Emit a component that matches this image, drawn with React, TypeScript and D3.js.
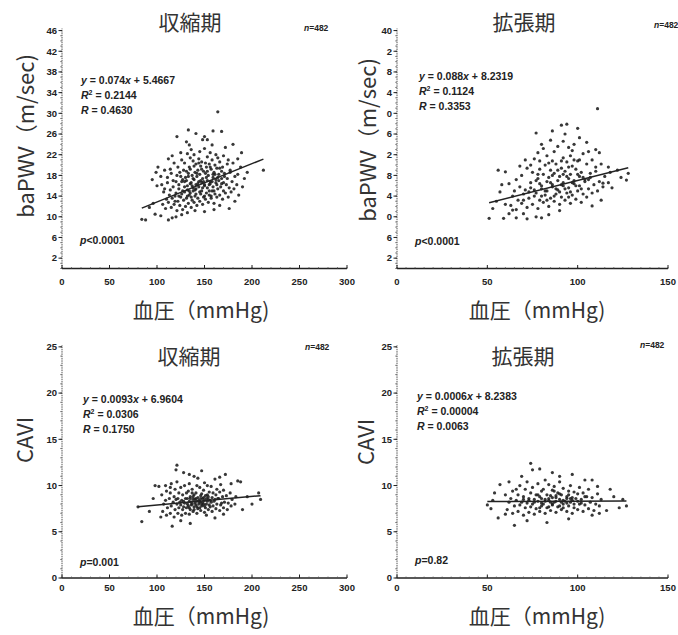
import React from 'react';
import * as d3 from 'd3';

type Pt = [number, number];

// 収縮期血圧 vs baPWV
const sysPwv: Pt[] = [
  [164,30.3],[133,26.8],[141,26.1],[150,25.5],[153,24.9],[159,26.6],[168,26.5],[121,25.5],[131,24.5],[134,23.9],[148,24.9],[158,23.9],[172,23.4],[180,24.0],[189,22.4],[212,19.0],
  [84,9.5],[88,9.4],[92,11.8],[96,12.6],[95,17.2],[99,18.6],[101,19.6],[100,16.0],[104,17.8],[108,19.0],[112,21.2],[116,21.8],[98,10.5],[104,10.2],
  [185,21.2],[192,17.4],[190,15.8],[186,14.2],[182,13.0],[176,11.6],[188,19.6],[195,18.6],
  [112,9.4],[116,9.8],[120,10.0],[126,10.4],[132,10.8],[140,11.2],[150,11.0],[160,11.4],[166,12.2],
  [106,12.4],[107,14.8],[105,16.2],
  [109,11.6],[110,13.4],[108,15.4],[111,17.6],
  [112,12.8],[113,14.2],[111,16.6],[114,19.2],
  [115,11.8],[116,13.6],[114,15.2],[117,17.0],[115,18.4],
  [118,12.4],[119,14.0],[117,15.8],[120,16.8],[118,20.4],
  [121,11.2],[122,13.0],[120,14.6],[123,16.2],[121,18.0],[122,19.6],
  [124,12.2],[125,13.8],[123,15.4],[126,16.8],[124,18.6],[125,22.4],
  [127,11.4],[128,13.2],[126,14.4],[129,15.8],[127,17.2],[128,19.0],[126,21.0],
  [130,12.0],[131,13.6],[129,14.8],[132,16.0],[130,17.6],[131,18.8],[129,20.4],[132,22.2],
  [133,12.6],[134,14.2],[132,15.2],[135,16.4],[133,17.8],[134,19.6],[135,21.4],
  [136,11.8],[137,13.2],[135,14.6],[138,15.6],[136,16.6],[137,18.0],[135,19.2],[138,20.8],[136,23.0],
  [139,12.8],[140,14.0],[138,15.0],[141,16.2],[139,17.2],[140,18.6],[141,20.2],[139,22.0],
  [142,12.2],[143,13.6],[141,15.4],[144,16.8],[142,17.8],[143,19.0],[144,21.2],
  [145,13.0],[146,14.4],[144,15.8],[147,16.6],[145,18.2],[146,19.8],[145,22.6],
  [148,12.4],[149,13.8],[147,15.0],[150,16.2],[148,17.4],[149,18.8],[147,20.6],[150,23.2],
  [151,13.4],[152,14.6],[150,16.0],[153,17.0],[151,18.4],[152,19.6],[153,21.6],
  [154,12.8],[155,14.2],[153,15.6],[156,16.8],[154,18.0],[155,20.2],[156,22.4],
  [157,13.6],[158,15.0],[156,16.4],[159,17.6],[157,19.2],[158,21.0],
  [160,12.6],[161,14.4],[159,15.8],[162,17.2],[160,18.6],[161,20.0],[162,22.0],
  [163,13.8],[164,15.4],[162,16.6],[165,18.2],[163,19.4],[164,21.4],
  [166,14.2],[167,15.8],[165,17.0],[168,18.8],[166,20.6],
  [169,13.4],[170,15.0],[168,16.4],[171,17.8],[169,19.6],[170,21.8],
  [172,14.6],[173,16.2],[171,18.4],[174,20.2],
  [175,13.8],[176,15.6],[174,17.4],[177,19.0],[175,21.0],
  [178,14.8],[179,16.8],[177,18.6],
  [181,15.4],[182,17.8],[180,20.4],
  [184,16.2],[185,18.2],
  [134,15.0],[137,16.0],[140,15.2],[143,16.4],[146,17.0],[149,16.8],[152,17.6],[155,16.2],[158,16.8],[161,18.2],
  [138,17.4],[142,18.4],[147,19.2],[151,20.4],[156,19.6],[132,14.0],[129,16.8],[136,13.8],[141,14.4],[145,14.8],
  [150,14.0],[155,15.0],[160,15.0],[164,17.6],[168,17.4],[133,18.4],[127,15.0],[123,14.0],[119,13.0],[144,20.4],
  [153,18.8],[159,18.2],[166,19.4],[170,16.6],[148,15.6],[139,19.8],[131,17.0],[125,17.8],[157,14.0],[163,16.2],
];

// 拡張期血圧 vs baPWV
const diaPwv: Pt[] = [
  [111,30.9],[91,27.7],[94,27.9],[100,27.1],[77,26.2],[86,26.6],[93,26.0],[101,25.3],[105,24.4],[80,24.0],[110,23.0],[112,22.4],
  [56,19.0],[60,18.7],[53,11.6],[51,9.7],[59,9.7],[64,11.3],[122,19.0],[127,17.1],[124,17.6],[114,16.5],[113,13.2],[108,12.1],
  [77,10.0],[90,11.2],[70,10.6],[84,10.4],[117,19.6],[119,15.6],[128,18.4],
  [83,21.8],[89,23.6],[97,22.8],[101,21.0],[106,22.6],[74,20.0],[79,20.8],[92,24.6],[98,24.0],[85,24.8],[71,21.0],[68,19.8],
  [60,12.4],[57,14.8],[55,13.0],[58,16.2],[62,10.6],[66,9.8],[72,9.6],[80,9.8],
  [63,12.2],[64,14.0],[62,16.4],
  [66,11.4],[67,13.2],[65,15.0],[66,17.2],
  [69,12.6],[70,14.4],[68,15.8],[69,18.0],
  [72,11.8],[73,13.6],[71,15.2],[74,16.6],[72,19.4],
  [75,12.4],[76,14.0],[74,15.6],[77,17.0],[75,18.6],[76,21.2],
  [78,11.6],[79,13.2],[77,14.6],[80,16.0],[78,17.4],[79,19.2],[78,22.4],
  [81,12.8],[82,14.2],[80,15.4],[83,16.8],[81,18.2],[82,20.0],[81,23.2],
  [84,12.0],[85,13.6],[83,15.0],[86,16.2],[84,17.6],[85,19.0],[86,20.8],
  [87,13.0],[88,14.4],[86,15.8],[89,17.0],[87,18.4],[88,20.2],[87,22.6],
  [90,12.4],[91,13.8],[89,15.2],[92,16.6],[90,17.8],[91,19.4],[92,21.4],
  [93,13.2],[94,14.6],[92,16.0],[95,17.4],[93,18.8],[94,20.6],[95,23.4],
  [96,12.6],[97,14.2],[95,15.6],[98,17.0],[96,18.2],[97,19.8],[96,21.8],
  [99,13.4],[100,15.0],[98,16.4],[101,17.8],[99,19.2],[100,20.8],
  [102,12.8],[103,14.4],[101,16.0],[104,17.2],[102,18.6],[103,22.2],
  [105,13.8],[106,15.4],[104,16.8],[107,18.4],[105,20.2],
  [108,14.6],[109,16.2],[107,17.6],[110,19.6],[108,21.0],
  [111,15.0],[112,16.8],[110,18.8],
  [114,15.8],[115,17.8],[113,20.2],
  [117,16.6],[118,18.6],
  [82,15.0],[85,16.6],[88,15.4],[91,16.2],[94,17.8],[97,16.6],[100,18.2],[103,17.6],[86,18.0],[89,19.0],
  [92,18.2],[95,19.6],[80,14.0],[83,13.2],[87,14.0],[90,14.8],[93,15.4],[96,14.8],[99,16.0],[102,15.4],
  [76,15.2],[79,16.4],[73,14.8],[70,13.2],[106,17.2],[84,20.4],[98,21.0],[91,20.8],[78,18.2],[95,13.8],
];

// 収縮期血圧 vs CAVI
const sysCavi: Pt[] = [
  [121,12.2],[120,11.7],[128,11.4],[134,11.2],[139,11.0],[147,11.6],[143,10.8],[98,10.0],[102,9.9],[109,10.0],[114,9.8],
  [161,10.7],[166,10.9],[185,10.5],[188,10.4],[80,7.7],[84,6.1],[116,5.6],[207,9.2],[209,8.5],[161,6.5],[152,6.8],
  [92,7.2],[96,8.6],[104,6.6],[172,11.2],[178,10.2],[195,8.8],[200,8.0],[190,7.4],[125,6.2],[135,5.9],[170,6.9],
  [106,7.2],[107,8.0],[105,9.0],
  [110,6.8],[111,7.6],[109,8.4],[110,9.4],
  [114,7.0],[115,7.8],[113,8.6],[114,9.2],[115,10.2],
  [118,6.6],[119,7.4],[117,8.2],[118,8.8],[119,9.6],
  [122,7.0],[123,7.6],[121,8.0],[122,8.6],[123,9.2],[121,10.4],
  [126,6.8],[127,7.4],[125,7.9],[126,8.4],[127,9.0],[125,9.8],
  [130,7.0],[131,7.6],[129,8.1],[130,8.6],[131,9.2],[129,10.0],
  [134,6.9],[135,7.4],[133,7.8],[134,8.3],[135,8.8],[133,9.4],[134,10.2],
  [138,7.2],[139,7.7],[137,8.0],[138,8.5],[139,9.0],[137,9.6],
  [142,7.0],[143,7.5],[141,7.9],[142,8.3],[143,8.7],[141,9.2],[142,10.0],
  [146,7.3],[147,7.8],[145,8.2],[146,8.6],[147,9.1],[145,9.8],
  [150,7.1],[151,7.6],[149,8.0],[150,8.4],[151,8.9],[149,9.5],[150,10.3],
  [154,7.4],[155,7.9],[153,8.3],[154,8.8],[155,9.3],[153,10.0],
  [158,7.2],[159,7.8],[157,8.2],[158,8.7],[159,9.2],[157,9.9],
  [162,7.5],[163,8.0],[161,8.5],[162,9.0],[163,9.6],
  [166,7.3],[167,7.9],[165,8.6],[166,9.3],[167,10.1],
  [170,7.6],[171,8.2],[169,8.8],[170,9.5],
  [174,7.4],[175,8.1],[173,8.9],
  [178,7.8],[179,8.5],[177,9.2],
  [182,8.0],[183,8.8],
  [132,8.0],[136,8.2],[140,8.1],[144,8.4],[148,8.2],[128,8.3],[152,8.6],[156,8.4],[139,7.4],[145,7.6],[135,8.6],[147,8.0],
  [136,7.9],[140,8.5],[144,8.0],[148,8.6],[152,8.0],[138,8.8],[142,7.7],[146,8.9],[150,7.8],[154,8.5],[132,8.6],[128,7.7],
  [156,7.7],[160,8.3],[134,7.6],[141,8.6],[145,8.3],[149,8.7],[137,9.2],[153,9.0],[124,8.2],[120,8.5],[164,8.6],[168,8.1],
];

// 拡張期血圧 vs CAVI
const diaCavi: Pt[] = [
  [74,12.4],[75,11.7],[50,7.9],[52,7.5],[56,6.5],[65,5.7],[57,10.1],[54,9.2],[86,11.4],[90,11.0],[97,11.2],[104,10.6],
  [108,10.6],[111,9.9],[125,8.5],[127,7.8],[116,7.3],[112,7.0],[108,6.8],[62,10.4],[66,9.6],[69,11.0],[79,11.8],[60,6.9],
  [72,6.2],[83,6.0],[95,6.4],[120,8.8],[118,9.6],[123,7.6],[53,8.4],
  [61,7.4],[62,8.2],[60,9.0],
  [64,7.0],[65,7.8],[63,8.6],[64,9.4],
  [67,7.2],[68,7.9],[66,8.4],[67,9.0],[68,10.0],
  [70,6.8],[71,7.6],[69,8.2],[70,8.8],[71,9.6],
  [73,7.1],[74,7.7],[72,8.1],[73,8.6],[74,9.2],[72,10.4],
  [76,6.9],[77,7.5],[75,8.0],[76,8.5],[77,9.0],[75,9.8],
  [79,7.2],[80,7.8],[78,8.3],[79,8.8],[80,9.4],[78,10.2],
  [82,7.0],[83,7.6],[81,8.0],[82,8.5],[83,9.0],[81,9.6],[82,10.6],
  [85,7.3],[86,7.9],[84,8.4],[85,8.9],[86,9.5],[84,10.1],
  [88,7.1],[89,7.7],[87,8.2],[88,8.7],[89,9.2],[87,9.9],
  [91,7.4],[92,8.0],[90,8.5],[91,9.0],[92,9.7],[90,10.4],
  [94,7.2],[95,7.8],[93,8.3],[94,8.8],[95,9.4],
  [97,7.0],[98,7.6],[96,8.2],[97,8.7],[98,9.3],[96,10.0],
  [100,7.4],[101,8.0],[99,8.6],[100,9.1],[101,9.8],
  [103,7.2],[104,7.9],[102,8.5],[103,9.2],
  [106,7.5],[107,8.2],[105,8.8],[106,9.6],
  [109,7.3],[110,8.0],[108,8.7],
  [112,7.8],[113,8.5],[111,9.1],
  [80,8.1],[84,8.6],[88,8.3],[92,8.4],[96,8.6],[86,8.0],[90,7.8],[94,8.1],[78,9.0],[98,8.0],
  [82,8.3],[85,8.2],[88,8.9],[91,8.2],[94,8.6],[97,8.4],[100,8.3],[86,8.7],[90,9.1],[84,7.7],
  [92,7.6],[80,8.6],[76,8.2],[102,8.1],[104,8.8],[79,7.6],[73,8.4],[70,8.5],[87,9.4],[95,9.0],
];

const slopes = [0.074, 0.088, 0.0093, 0.0006];
const intercepts = [5.4667, 8.2319, 6.9604, 8.2383];
const eqSlopeText = ['0.074', '0.088', '0.0093', '0.0006'];
const eqInterceptText = ['5.4667', '8.2319', '6.9604', '8.2383'];
const r2Text = ['0.2144', '0.1124', '0.0306', '0.00004'];
const rText = ['0.4630', '0.3353', '0.1750', '0.0063'];
const pText = ['<0.0001', '<0.0001', '=0.001', '=0.82'];
const nText = ['482', '482', '482', '482'];
const titles = ['収縮期', '拡張期', '収縮期', '拡張期'];
const yAxisTitles = ['baPWV（m/sec)', 'baPWV（m/sec)', 'CAVI', 'CAVI'];
const xAxisTitle = '血圧（mmHg)';

const xTicksSys = [0, 50, 100, 150, 200, 250, 300];
const xTicksDia = [0, 50, 100, 150];
const yTicksPwv = [2, 6, 10, 14, 18, 22, 26, 30, 34, 38, 42, 46];
const yTickLabelsPwvLeft = ['2', '6', '10', '14', '18', '22', '26', '30', '34', '38', '42', '46'];
const yTickLabelsPwvRight = ['2', '6', '0', '4', '8', '2', '6', '0', '4', '8', '2', '40'];
const yTicksCavi = [0, 5, 10, 15, 20, 25];
const yTickLabelsCavi = ['0', '5', '10', '15', '20', '25'];

interface Cfg {
  data: Pt[];
  idx: number;
  xDomain: [number, number];
  xRange: [number, number];
  xTicks: number[];
  yDomain: [number, number];
  yRange: [number, number];
  yTicks: number[];
  yTickLabels: string[];
  titleX: number;
  titleY: number;
  nX: number;
  nY: number;
  yTitleX: number;
  yTitleY: number;
  xTitleX: number;
  xTitleY: number;
  xTickDy: number;
  eqX: number;
  eqY: number;
  pX: number;
  pY: number;
}

const panels: Cfg[] = [
  { data: sysPwv, idx: 0, xDomain: [0, 300], xRange: [62, 347], xTicks: xTicksSys, yDomain: [0, 46.4], yRange: [268.5, 28.5],
    yTicks: yTicksPwv, yTickLabels: yTickLabelsPwvLeft, titleX: 190, titleY: 30, nX: 304, nY: 31,
    yTitleX: 24, yTitleY: 136, xTitleX: 201, xTitleY: 318, xTickDy: 16, eqX: 81, eqY: 84, pX: 80, pY: 244 },
  { data: diaPwv, idx: 1, xDomain: [0, 150], xRange: [397, 668], xTicks: xTicksDia, yDomain: [0, 46.4], yRange: [268.5, 28.5],
    yTicks: yTicksPwv, yTickLabels: yTickLabelsPwvRight, titleX: 524, titleY: 30, nX: 654, nY: 28,
    yTitleX: 366, yTitleY: 140, xTitleX: 537, xTitleY: 318, xTickDy: 16, eqX: 419, eqY: 80, pX: 415, pY: 245 },
  { data: sysCavi, idx: 2, xDomain: [0, 300], xRange: [62, 347], xTicks: xTicksSys, yDomain: [0, 25.2], yRange: [578, 345],
    yTicks: yTicksCavi, yTickLabels: yTickLabelsCavi, titleX: 189, titleY: 364, nX: 305, nY: 350,
    yTitleX: 23, yTitleY: 440, xTitleX: 201, xTitleY: 624, xTickDy: 13, eqX: 83, eqY: 403, pX: 80, pY: 566 },
  { data: diaCavi, idx: 3, xDomain: [0, 150], xRange: [397, 668], xTicks: xTicksDia, yDomain: [0, 25.2], yRange: [578, 345],
    yTicks: yTicksCavi, yTickLabels: yTickLabelsCavi, titleX: 523, titleY: 364, nX: 640, nY: 348,
    yTitleX: 364, yTitleY: 442, xTitleX: 537, xTitleY: 624, xTickDy: 13, eqX: 417, eqY: 400, pX: 415, pY: 564 },
];

const numFont = '"Liberation Sans", Arial, sans-serif';
const jpFont = '"Noto Sans CJK JP", "Noto Sans", sans-serif';
const ink = '#222';

function Panel({ cfg }: { cfg: Cfg }) {
  const x = d3.scaleLinear().domain(cfg.xDomain).range(cfg.xRange);
  const y = d3.scaleLinear().domain(cfg.yDomain).range(cfg.yRange);
  const a = slopes[cfg.idx];
  const b = intercepts[cfg.idx];
  const [xmin, xmax] = d3.extent(cfg.data, (d) => d[0]) as [number, number];
  const regPath = d3.line<number>()
    .x((v) => x(v))
    .y((v) => y(a * v + b))([xmin, xmax]) || '';
  const minor = d3.range(Math.ceil(cfg.yDomain[0]), Math.floor(cfg.yDomain[1]) + 1, 1);
  const xMinor = d3.range(cfg.xDomain[0], cfg.xDomain[1] + 0.01, (cfg.xDomain[1] - cfg.xDomain[0]) / 30);
  const x0 = cfg.xRange[0];
  const yb = cfg.yRange[0];
  const lh = 15;
  return (
    <g>
      <text x={cfg.titleX} y={cfg.titleY} textAnchor="middle" fontFamily={jpFont} fontSize={21} fill="#333">
        {titles[cfg.idx]}
      </text>
      <text x={cfg.nX} y={cfg.nY} fontFamily={numFont} fontSize={8.5} fill={ink} fontWeight="bold">
        <tspan fontStyle="italic">n</tspan>{'=' + nText[cfg.idx]}
      </text>
      <line x1={x0} x2={x0} y1={yb} y2={cfg.yRange[1]} stroke="#555" strokeWidth={1} strokeDasharray="1.5,0.8" />
      {minor.map((v) => (
        <line key={'m' + v} x1={x0} x2={x0 - 1.8} y1={y(v)} y2={y(v)} stroke="#666" strokeWidth={0.8} />
      ))}
      {cfg.yTicks.map((v, i) => (
        <g key={'t' + v}>
          <line x1={x0} x2={x0 - 3.5} y1={y(v)} y2={y(v)} stroke={ink} strokeWidth={1} />
          <text x={x0 - 5} y={y(v) + 3.3} textAnchor="end" fontFamily={numFont} fontSize={9.5} fontWeight="bold" fill={ink}>
            {cfg.yTickLabels[i]}
          </text>
        </g>
      ))}
      <line x1={x0} x2={cfg.xRange[1]} y1={yb} y2={yb} stroke={ink} strokeWidth={1.6} />
      {xMinor.map((v, i) => (
        <line key={'xm' + i} x1={x(v)} x2={x(v)} y1={yb} y2={yb - 1.5} stroke="#555" strokeWidth={0.7} />
      ))}
      {cfg.xTicks.map((v) => (
        <g key={'xt' + v}>
          <line x1={x(v)} x2={x(v)} y1={yb} y2={yb - 3.5} stroke={ink} strokeWidth={1} />
          <text x={x(v)} y={yb + cfg.xTickDy} textAnchor="middle" fontFamily={numFont} fontSize={9.5} fontWeight="bold" fill={ink}>
            {v}
          </text>
        </g>
      ))}
      <text transform={`translate(${cfg.yTitleX},${cfg.yTitleY}) rotate(-90)`} textAnchor="middle" dominantBaseline="central"
        fontFamily={jpFont} fontSize={22} fill="#333">
        {yAxisTitles[cfg.idx]}
      </text>
      <text x={cfg.xTitleX} y={cfg.xTitleY} textAnchor="middle" fontFamily={jpFont} fontSize={21} fill="#333">
        {xAxisTitle}
      </text>
      {cfg.data.map((d, i) => (
        <circle key={'p' + i} cx={x(d[0])} cy={y(d[1])} r={1.6} fill="#1c1c1c" fillOpacity={0.88} />
      ))}
      <path d={regPath} stroke={ink} strokeWidth={1.5} fill="none" />
      <g fontFamily={numFont} fontSize={10.5} fontWeight="bold" fill={ink}>
        <text x={cfg.eqX} y={cfg.eqY}>
          <tspan fontStyle="italic">y</tspan>{' = ' + eqSlopeText[cfg.idx]}<tspan fontStyle="italic">x</tspan>{' + ' + eqInterceptText[cfg.idx]}
        </text>
        <text x={cfg.eqX} y={cfg.eqY + lh}>
          <tspan fontStyle="italic">R</tspan><tspan fontSize={7} dy={-4}>2</tspan><tspan dy={4}>{' = ' + r2Text[cfg.idx]}</tspan>
        </text>
        <text x={cfg.eqX} y={cfg.eqY + 2 * lh}>
          <tspan fontStyle="italic">R</tspan>{' = ' + rText[cfg.idx]}
        </text>
        <text x={cfg.pX} y={cfg.pY}>
          <tspan fontStyle="italic">p</tspan>{pText[cfg.idx]}
        </text>
      </g>
    </g>
  );
}

export default function App() {
  return (
    <svg width={678} height={635} viewBox="0 0 678 635" style={{ position: 'absolute', left: 0, top: 0, background: '#fff' }}>
      <rect x={0} y={0} width={678} height={635} fill="#fff" />
      {panels.map((p) => (
        <Panel key={p.idx} cfg={p} />
      ))}
    </svg>
  );
}
